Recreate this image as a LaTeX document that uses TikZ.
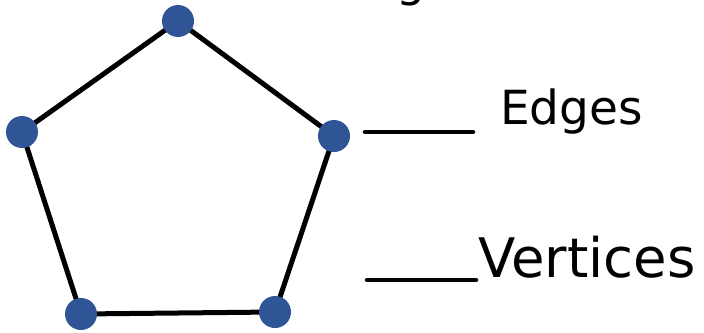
\documentclass[tikz,border=0pt]{standalone}
\usepackage{fontspec}
\setmainfont{DejaVu Sans}
\definecolor{vertexblue}{HTML}{2F5597}
\begin{document}
\begin{tikzpicture}[x=1pt,y=-1pt,
  vertex/.style={circle,fill=vertexblue,inner sep=0pt,minimum size=32pt},
  edge/.style={line width=5pt,black},
  blank/.style={line width=4.5pt,black,line cap=round},
  label/.style={inner sep=0pt,anchor=base west}]
  \useasboundingbox (0,0) rectangle (704,332);
  \clip (0,0) rectangle (704,332);

  % descender of the title line above
  \node[inner sep=0pt,anchor=base] (title) at (411,-4) {\fontsize{46}{46}\selectfont g};

  % the pentagon
  \coordinate (p1) at (178,21);
  \coordinate (p2) at (334,136);
  \coordinate (p3) at (275,312);
  \coordinate (p4) at (81,314);
  \coordinate (p5) at (22,132);
  \draw[edge] (p1) -- (p2) -- (p3) -- (p4) -- (p5) -- cycle;
  \foreach \i in {1,...,5} \node[vertex] (v\i) at (p\i) {};

  % fill-in blanks with their labels
  \coordinate (b1s) at (365,132);
  \coordinate (b1e) at (473,132);
  \draw[blank] (b1s) -- (b1e);
  \node[label] (edges) at (500,124) {\fontsize{47}{47}\selectfont Edges};

  \coordinate (b2s) at (367,280);
  \coordinate (b2e) at (476,280);
  \draw[blank] (b2s) -- (b2e);
  \node[label] (vertices) at (478,277) {\fontsize{54.5}{54.5}\selectfont Vertices};
\end{tikzpicture}
\end{document}
